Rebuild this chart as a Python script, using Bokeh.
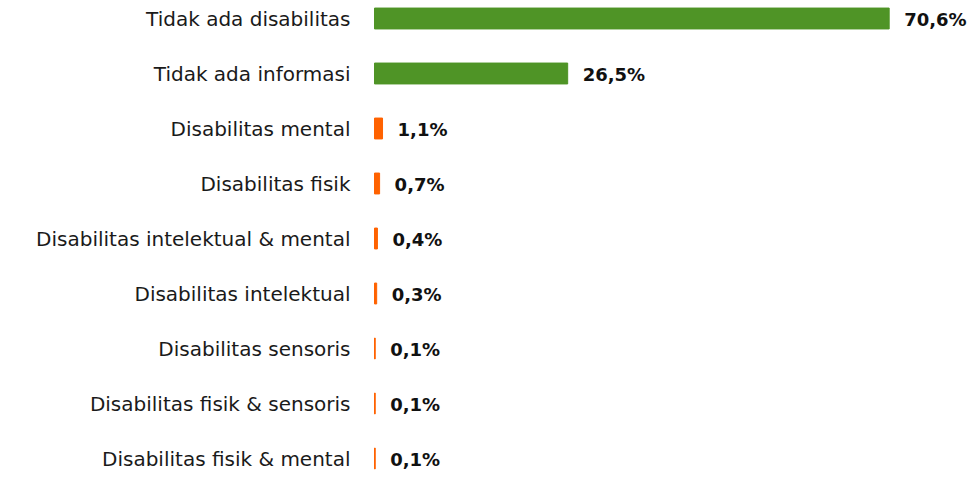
from bokeh.plotting import figure
from bokeh.models import ColumnDataSource, Range1d
from bokeh.core.properties import value
from bokeh.embed import file_html
from bokeh.resources import INLINE

categories = [
    "Tidak ada disabilitas",
    "Tidak ada informasi",
    "Disabilitas mental",
    "Disabilitas fisik",
    "Disabilitas intelektual & mental",
    "Disabilitas intelektual",
    "Disabilitas sensoris",
    "Disabilitas fisik & sensoris",
    "Disabilitas fisik & mental",
]
values = [70.6, 26.5, 1.1, 0.7, 0.4, 0.3, 0.1, 0.1, 0.1]
labels = ["70,6%", "26,5%", "1,1%", "0,7%", "0,4%", "0,3%", "0,1%", "0,1%", "0,1%"]
GREEN = "#4f9426"
ORANGE = "#ff6200"
colors = [GREEN, GREEN] + [ORANGE] * 7

n = len(categories)
ypos = [n - 1 - i for i in range(n)]

src = ColumnDataSource(dict(cat=categories, val=values, lab=labels, y=ypos, color=colors,
                            zero=[0] * n))

W, H = 970, 472
PX_X = 7.29      # pixels per percent
ZERO_X = 374     # pixel of the zero line
PX_Y = 55.0      # pixels per row
TOP_Y = 18       # pixel centre of the first row

x_start = -ZERO_X / PX_X
x_end = (W - ZERO_X) / PX_X
y_end = (n - 1) + TOP_Y / PX_Y
y_start = y_end - H / PX_Y

p = figure(width=W, height=H, output_backend="svg", toolbar_location=None,
           x_range=Range1d(x_start, x_end), y_range=Range1d(y_start, y_end),
           min_border=0)
p.xaxis.visible = False
p.yaxis.visible = False
p.xgrid.visible = False
p.ygrid.visible = False
p.outline_line_color = None

p.hbar(y="y", left="zero", right="val", height=0.38, color="color", line_color="color",
       line_width=1, source=src)

p.text(x="zero", y="y", text="cat", source=src, x_offset=-24, text_align="right",
       text_baseline="middle", text_font=value("DejaVu Sans"), text_font_size="20px",
       text_color="#1a1a1a")

p.text(x="val", y="y", text="lab", source=src, x_offset=15, y_offset=1, text_align="left",
       text_baseline="middle", text_font=value("DejaVu Sans"), text_font_style="bold",
       text_font_size="18px", text_color="#111111")

open("out.html", "w").write(file_html(p, INLINE))
